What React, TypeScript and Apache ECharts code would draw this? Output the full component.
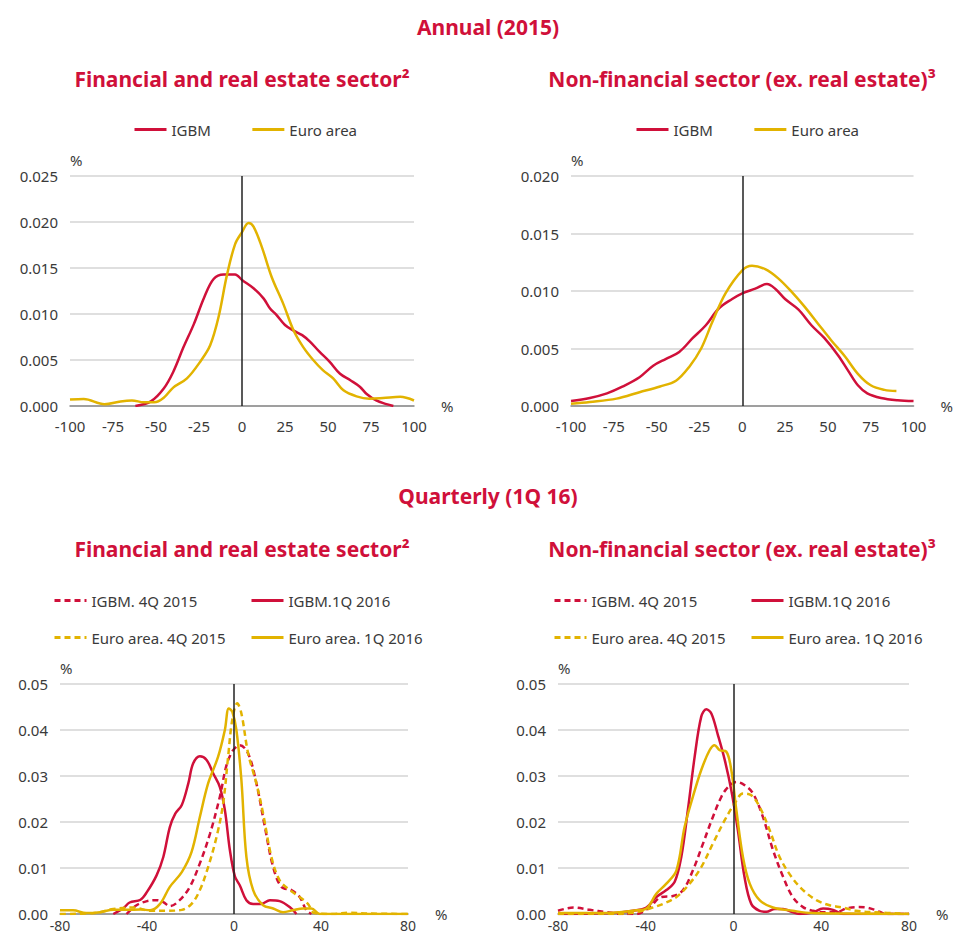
import React, { useEffect, useRef } from "react";
import * as echarts from "echarts";

const RED = "#d0103a";
const GOLD = "#e2b300";
const TXT = "#3a3a3a";
const FONT = "'Noto Sans', sans-serif";

// Annual (2015) – Financial and real estate sector
const annFinIgbm: number[][] = [
  [-62, 0], [-53, 0.0005], [-45.5, 0.0019], [-40, 0.0037], [-34, 0.0064], [-28, 0.0089],
  [-22, 0.0118], [-16.5, 0.0138], [-10.7, 0.0143], [-4, 0.0143], [0, 0.0137], [6.7, 0.0128],
  [12.5, 0.0117], [16.3, 0.0106], [20, 0.0099], [25, 0.0088], [30, 0.0082], [35, 0.0077],
  [39.5, 0.007], [45, 0.0059], [51, 0.0048], [57, 0.0035], [63, 0.0028], [68.5, 0.0021],
  [72.5, 0.0013], [78, 0.0006], [84, 0.0002], [88, 0],
];
const annFinEuro: number[][] = [
  [-100, 0.0007], [-92, 0.00076], [-80, 0.0002], [-70.6, 0.0005], [-64, 0.0006], [-57, 0.0004],
  [-51, 0.0004], [-45.5, 0.0009], [-40, 0.002], [-32, 0.003], [-24, 0.0049], [-18.5, 0.0066],
  [-13.6, 0.0097], [-8.8, 0.0142], [-4, 0.0176], [0, 0.0189], [3.8, 0.0199], [6.7, 0.0195],
  [11.5, 0.0173], [17.3, 0.014], [24, 0.0111], [30, 0.0082], [35.6, 0.0064], [41.4, 0.005],
  [47, 0.0039], [53, 0.003], [59, 0.0017], [66.6, 0.00105], [74, 0.0008], [82, 0.00087],
  [92, 0.001], [100, 0.0006],
];
// Annual (2015) – Non-financial sector
const annNonIgbm: number[][] = [
  [-100, 0.00043], [-89, 0.0007], [-79, 0.0011], [-69.7, 0.0017], [-60, 0.0025], [-52, 0.0035],
  [-44.5, 0.0041], [-36.8, 0.0047], [-29, 0.0059], [-21.4, 0.007], [-13.6, 0.0085], [-5.9, 0.0093],
  [0, 0.0098], [7.6, 0.0102], [14.4, 0.0106], [19.2, 0.0102], [25, 0.0093], [32.7, 0.0084],
  [40.5, 0.007], [48, 0.0059], [56, 0.0044], [61.7, 0.0031], [67.5, 0.0018], [73, 0.0011],
  [81, 0.0007], [90.7, 0.0005], [100, 0.00043],
];
const annNonEuro: number[][] = [
  [-100, 0.0002], [-89, 0.00035], [-73.4, 0.00064], [-60, 0.0012], [-48, 0.0017], [-38.7, 0.0022],
  [-31, 0.0034], [-24, 0.005], [-17.5, 0.0073], [-9.8, 0.0098], [0, 0.0118], [5.7, 0.0122],
  [13.4, 0.0119], [21, 0.0111], [29, 0.0099], [36.6, 0.0086], [44, 0.0072], [52, 0.0057],
  [60, 0.0043], [67.5, 0.0028], [75, 0.0018], [83, 0.0014], [90, 0.0013],
];
// Quarterly – Financial and real estate sector
const qFinIgbm1Q: number[][] = [
  [-55.5, 0], [-51, 0.0012], [-48, 0.0025], [-43, 0.0031], [-40, 0.0048], [-35.6, 0.0084],
  [-32.5, 0.0124], [-29.5, 0.0189], [-27, 0.0218], [-24, 0.0237], [-21, 0.0284], [-18.8, 0.0327],
  [-15.7, 0.0343], [-12.6, 0.0335], [-9.6, 0.0306], [-6.5, 0.0276], [-4.2, 0.0226], [-1.9, 0.0139],
  [0.4, 0.0082], [2.7, 0.0062], [5.7, 0.003], [8.8, 0.0022], [12.6, 0.0022], [16.5, 0.003],
  [21, 0.0028], [25.6, 0.0015], [28.7, 0],
];
const qFinIgbm4Q: number[][] = [
  [-49.4, 0], [-44.8, 0.0019], [-40, 0.0028], [-35.6, 0.003], [-32.5, 0.0026], [-29.5, 0.0017],
  [-25, 0.003], [-20.3, 0.0059], [-15.7, 0.011], [-11, 0.0175], [-6.5, 0.0255], [-3.4, 0.0324],
  [-0.4, 0.0356], [2.7, 0.0367], [6.5, 0.0349], [10.3, 0.0284], [14.2, 0.0189], [18, 0.0102],
  [21.8, 0.0059], [26.4, 0.0052], [30.2, 0.0037], [33.3, 0.0008], [35.6, 0],
];
const qFinEuro1Q: number[][] = [
  [-80, 0.0008], [-74, 0.0008], [-68, 0.0002], [-61.6, 0.0004], [-55.5, 0.0009], [-49.4, 0.0009],
  [-43, 0.001], [-38.6, 0.0008], [-34, 0.0022], [-29.5, 0.0059], [-24, 0.0091], [-19.5, 0.0135],
  [-15.7, 0.0211], [-11.9, 0.0284], [-7.3, 0.0342], [-4.2, 0.04], [-2.4, 0.0447], [-0.8, 0.044],
  [1.1, 0.04], [3.4, 0.0291], [5.7, 0.0124], [8.8, 0.0052], [13.4, 0.0019], [18, 0.0012],
  [22.6, 0.0004], [27, 0.0008], [31.8, 0.0012], [35.6, 0.0012], [39.4, 0], [60, 0], [80, 0],
];
const qFinEuro4Q: number[][] = [
  [-80, 0], [-64, 0.0002], [-55.5, 0.0011], [-46, 0.0014], [-38.6, 0.0007], [-31, 0.0007],
  [-24, 0.0009], [-19.5, 0.0022], [-15.7, 0.0052], [-11.9, 0.0102], [-8, 0.0168], [-5, 0.024],
  [-2.7, 0.0342], [-0.8, 0.0422], [1.5, 0.0458], [3.4, 0.0436], [6.5, 0.0349], [10.3, 0.0284],
  [13.4, 0.0218], [17.2, 0.0124], [21, 0.0073], [25.6, 0.0052], [30.2, 0.0037], [34, 0.0022],
  [37, 0.0002], [45.5, 0], [53, 0.0003], [62, 0.0001], [80, 0],
];
// Quarterly – Non-financial sector
const qNonIgbm1Q: number[][] = [
  [-80, 0], [-55, 0.0002], [-45.8, 0.0007], [-39.7, 0.0014], [-35.2, 0.0037], [-30.6, 0.0052],
  [-26.8, 0.007], [-23.8, 0.0124], [-20.8, 0.0226], [-17.7, 0.0342], [-14.7, 0.0429], [-12.4, 0.0445],
  [-10.1, 0.0436], [-7.1, 0.0389], [-4, 0.0335], [-1, 0.0269], [2, 0.0182], [5, 0.0081],
  [8.1, 0.0022], [11.9, 0.0007], [15, 0.0005], [18.8, 0.0011], [22.6, 0.0011], [26.4, 0.0005],
  [30, 0], [36, 0.0003], [40.8, 0.0012], [45.4, 0.0009], [50, 0], [80, 0],
];
const qNonIgbm4Q: number[][] = [
  [-80, 0.0007], [-73, 0.0014], [-65.5, 0.0009], [-58, 0.0004], [-50.4, 0], [-44.3, 0],
  [-38.2, 0.0015], [-32.9, 0.0037], [-27.6, 0.0039], [-23, 0.0052], [-18.5, 0.0095], [-13.9, 0.0153],
  [-9.4, 0.0211], [-5.5, 0.0255], [-2.5, 0.0276], [1.3, 0.0287], [5.1, 0.028], [8.9, 0.0262],
  [13.4, 0.0211], [18, 0.0139], [22.6, 0.0081], [27, 0.0037], [31.7, 0.0015], [36.2, 0.0007],
  [40.8, 0.0004], [46.9, 0.0004], [51.4, 0.0012], [56, 0.0015], [60.6, 0.0014], [65.1, 0.0008],
  [69.7, 0], [80, 0],
];
const qNonEuro1Q: number[][] = [
  [-80, 0.0002], [-62.5, 0.0002], [-52, 0.0004], [-44.3, 0.0008], [-39.7, 0.0012], [-35.2, 0.0044],
  [-30.6, 0.0066], [-26, 0.0095], [-22.3, 0.0189], [-18.5, 0.0255], [-14.7, 0.0313], [-10.9, 0.0356],
  [-8.6, 0.0367], [-6.3, 0.0356], [-3.3, 0.0353], [-1, 0.0313], [1.3, 0.0226], [4.3, 0.0124],
  [7.4, 0.0066], [11.9, 0.003], [18, 0.0014], [27, 0.0007], [36, 0.0002], [51, 0.0001], [80, 0],
];
const qNonEuro4Q: number[][] = [
  [-80, 0], [-55, 0], [-44.3, 0.0004], [-38.2, 0.0012], [-32.1, 0.0022], [-26, 0.0037],
  [-20, 0.0066], [-14.7, 0.0102], [-9.4, 0.0153], [-4, 0.0204], [0.5, 0.024], [4.3, 0.0262],
  [8.1, 0.0258], [11.9, 0.0233], [16.5, 0.0182], [21, 0.0124], [26.4, 0.0081], [31.7, 0.0052],
  [37.8, 0.003], [43.8, 0.0019], [49.9, 0.0014], [56, 0.0007], [63.6, 0.0004], [80, 0],
];

const annualXTicks = { min: -100, max: 100, interval: 25 };
const quarterXTicks = { min: -80, max: 80, interval: 40 };
const annFinYTicks = { min: 0, max: 0.025, interval: 0.005 };
const annNonYTicks = { min: 0, max: 0.02, interval: 0.005 };
const quarterYTicks = { min: 0, max: 0.05, interval: 0.01 };

const mainTitles = ["Annual (2015)", "Quarterly (1Q 16)"];
const subTitles = ["Financial and real estate sector\u00b2", "Non-financial sector (ex. real estate)\u00b3"];

export default function App() {
  const ref = useRef<HTMLDivElement>(null);

  useEffect(() => {
    if (!ref.current) return;
    const chart = echarts.init(ref.current, undefined, { renderer: "svg" });

    const grids = [
      { left: 70, top: 176, width: 344, height: 230 },
      { left: 571, top: 176, width: 345, height: 230 },
      { left: 60, top: 684, width: 348, height: 230 },
      { left: 558, top: 684, width: 351, height: 230 },
    ];

    const mkX = (gi: number, t: any, labelSize: number, labelMargin: number) => ({
      type: "value",
      gridIndex: gi,
      min: t.min,
      max: t.max,
      interval: t.interval,
      name: "%",
      nameLocation: "end",
      nameGap: 27,
      nameTextStyle: { color: TXT, fontSize: 15, fontFamily: FONT, verticalAlign: "middle", padding: [4, 0, 0, 0] },
      axisLine: { show: true, onZero: false, lineStyle: { color: "#8a8a8a", width: 1.5 } },
      axisTick: { show: false },
      splitLine: { show: false },
      axisLabel: { color: TXT, fontSize: labelSize, fontFamily: FONT, margin: labelMargin },
    });
    const mkY = (gi: number, t: any, dec: number) => ({
      type: "value",
      gridIndex: gi,
      min: t.min,
      max: t.max,
      interval: t.interval,
      name: "%",
      nameLocation: "end",
      nameGap: 9,
      nameTextStyle: { color: TXT, fontSize: 15, fontFamily: FONT, align: "left" },
      axisLine: { show: false, onZero: false },
      axisTick: { show: false },
      splitLine: { show: true, lineStyle: { color: "#d4d4d4", width: 1.5 } },
      axisLabel: {
        color: TXT,
        fontSize: 15,
        fontFamily: FONT,
        margin: 12,
        formatter: (v: number) => v.toFixed(dec),
      },
    });

    const zeroLine = {
      silent: true,
      symbol: ["none", "none"],
      label: { show: false },
      lineStyle: { color: "#222", width: 1.5, type: "solid" },
      data: [{ xAxis: 0 }],
    };

    const mkS = (name: string, gi: number, data: number[][], color: string, dashed: boolean, mark = false) => ({
      name,
      type: "line",
      xAxisIndex: gi,
      yAxisIndex: gi,
      data,
      smooth: 0.35,
      symbol: "none",
      lineStyle: { color, width: 2.5, type: dashed ? [6, 4] : "solid" },
      itemStyle: { color },
      ...(mark ? { markLine: zeroLine } : {}),
    });

    const legendText = { color: TXT, fontSize: 15, fontFamily: FONT };
    const mkLegend = (left: number, top: number, data: string[], orient = "horizontal", gap = 40) => ({
      left,
      top,
      orient,
      itemWidth: 32,
      itemHeight: 14,
      itemGap: gap,
      textStyle: legendText,
      itemStyle: { color: "transparent", borderWidth: 0, opacity: 0 },
      lineStyle: { width: 3 },
      data,
      selectedMode: false,
    });

    const titleText = (text: string, x: number, y: number, size: number) => ({
      type: "text",
      x,
      y,
      style: {
        text,
        fill: RED,
        font: `bold ${size}px ${FONT}`,
        textAlign: "center",
        textVerticalAlign: "middle",
      },
    });

    chart.setOption({
      animation: false,
      backgroundColor: "#fff",
      grid: grids,
      xAxis: [
        mkX(0, annualXTicks, 15, 12),
        mkX(1, annualXTicks, 15, 12),
        mkX(2, quarterXTicks, 14, 4),
        mkX(3, quarterXTicks, 14, 4),
      ],
      yAxis: [mkY(0, annFinYTicks, 3), mkY(1, annNonYTicks, 3), mkY(2, quarterYTicks, 2), mkY(3, quarterYTicks, 2)],
      legend: [
        mkLegend(128, 117, ["IGBM", "Euro area"]),
        mkLegend(630, 117, ["IGBM", "Euro area"]),
        mkLegend(48, 588, ["IGBM. 4Q 2015", "Euro area. 4Q 2015"], "vertical", 22),
        mkLegend(245, 588, ["IGBM.1Q 2016", "Euro area. 1Q 2016"], "vertical", 22),
        mkLegend(548, 588, ["IGBM. 4Q 2015", "Euro area. 4Q 2015"], "vertical", 22),
        mkLegend(745, 588, ["IGBM.1Q 2016", "Euro area. 1Q 2016"], "vertical", 22),
      ],
      graphic: [
        titleText(mainTitles[0], 488, 27, 21),
        titleText(subTitles[0], 242, 79, 21),
        titleText(subTitles[1], 742, 79, 21),
        titleText(mainTitles[1], 488, 496, 21),
        titleText(subTitles[0], 242, 549, 21),
        titleText(subTitles[1], 742, 549, 21),
      ],
      series: [
        mkS("IGBM", 0, annFinIgbm, RED, false, true),
        mkS("Euro area", 0, annFinEuro, GOLD, false),
        mkS("IGBM", 1, annNonIgbm, RED, false, true),
        mkS("Euro area", 1, annNonEuro, GOLD, false),
        mkS("IGBM. 4Q 2015", 2, qFinIgbm4Q, RED, true, true),
        mkS("IGBM.1Q 2016", 2, qFinIgbm1Q, RED, false),
        mkS("Euro area. 4Q 2015", 2, qFinEuro4Q, GOLD, true),
        mkS("Euro area. 1Q 2016", 2, qFinEuro1Q, GOLD, false),
        mkS("IGBM. 4Q 2015", 3, qNonIgbm4Q, RED, true, true),
        mkS("IGBM.1Q 2016", 3, qNonIgbm1Q, RED, false),
        mkS("Euro area. 4Q 2015", 3, qNonEuro4Q, GOLD, true),
        mkS("Euro area. 1Q 2016", 3, qNonEuro1Q, GOLD, false),
      ],
    });

    return () => chart.dispose();
  }, []);

  return (
    <div
      ref={ref}
      style={{ position: "absolute", left: 0, top: 0, width: 954, height: 937, background: "#fff" }}
    />
  );
}
